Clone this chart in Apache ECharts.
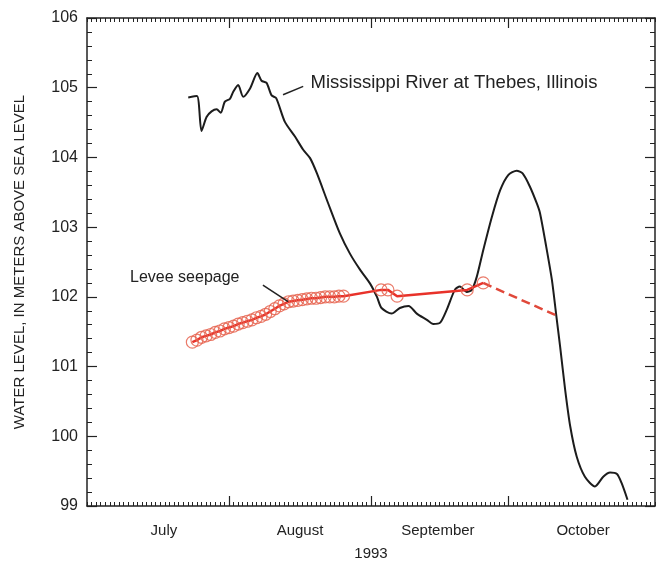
<!DOCTYPE html>
<html>
<head>
<meta charset="utf-8">
<script src="https://cdn.jsdelivr.net/npm/echarts@6/dist/echarts.min.js"></script>
<style>
  html, body { margin: 0; padding: 0; background: #ffffff; }
  #chart { width: 661px; height: 563px; }
</style>
</head>
<body>
<div id="chart"></div>
<script>
// Days are counted from 1 July 1993 (day 0).
const monthNames = ['July', 'August', 'September', 'October'];
const monthStarts = [31, 62, 92];          // 1 Aug, 1 Sep, 1 Oct
const monthLabelDays = [16.8, 46.5, 76.6, 108.3];

// Mississippi River stage at Thebes, Illinois (m above sea level)
const riverDays = [22.1, 24.0, 25.0, 26.1, 27.2, 28.3, 29.2, 30.1, 31.2, 31.9,
  33.0, 34.1, 35.6, 37.2, 38.1, 39.2, 40.3, 41.3, 43.2, 45.4,
  47.2, 48.7, 50.2, 52.6, 55.2, 57.4, 59.6, 61.8, 63.3, 64.3,
  66.5, 68.3, 70.2, 72.0, 74.2, 75.6, 77.1, 78.5, 80.3, 81.4,
  82.9, 84.0, 85.1, 86.5, 88.4, 90.2, 92.0, 93.8, 95.1, 96.7,
  98.2, 98.9, 100.2, 101.5, 102.4, 103.3, 104.4, 105.5, 106.9, 108.7,
  110.9, 112.7, 114.2, 115.7, 116.7, 118.0];
const riverLevel = [104.86, 104.88, 104.38, 104.58, 104.66, 104.69, 104.64, 104.80, 104.84, 104.94,
  105.04, 104.87, 104.99, 105.21, 105.10, 105.07, 104.89, 104.85, 104.51, 104.30,
  104.11, 103.99, 103.77, 103.35, 102.91, 102.62, 102.39, 102.19, 102.00, 101.84,
  101.76, 101.84, 101.87, 101.76, 101.67, 101.61, 101.63, 101.81, 102.10, 102.15,
  102.07, 102.10, 102.29, 102.67, 103.15, 103.53, 103.75, 103.81, 103.77, 103.58,
  103.34, 103.20, 102.74, 102.24, 101.76, 101.28, 100.66, 100.14, 99.71, 99.42,
  99.28, 99.42, 99.48, 99.46, 99.33, 99.09];

// Levee seepage water level (measured)
const seepDays = [23, 24, 25, 26, 27, 28, 29, 30, 31, 32,
  33, 34, 35, 36, 37, 38, 39, 40, 41, 42,
  43, 44, 45, 46, 47, 48, 49, 50, 51, 52,
  53, 54, 55, 56, 64.2, 65.7, 67.7, 83.0, 86.5];
const seepLevel = [101.35, 101.38, 101.42, 101.44, 101.46, 101.49, 101.51, 101.54, 101.56, 101.58,
  101.61, 101.63, 101.65, 101.67, 101.70, 101.72, 101.75, 101.79, 101.83, 101.87,
  101.90, 101.93, 101.94, 101.95, 101.96, 101.97, 101.98, 101.98, 101.99, 102.00,
  102.00, 102.00, 102.01, 102.01, 102.10, 102.10, 102.01, 102.10, 102.20];

// Estimated seepage level after the last measurement
const seepEstDays = [86.5, 102.2];
const seepEstLevel = [102.20, 101.74];

const pairs = (xs, ys) => xs.map((x, i) => [x, ys[i]]);

const FONT = '"Liberation Sans", Arial, Helvetica, sans-serif';
const INK = '#222222';
const X_MIN = 0, X_MAX = 124;
const Y_MIN = 99, Y_MAX = 106;

// Daily ticks along the bottom and top edges
const dayAxis = (pos) => ({
  type: 'value', position: pos, min: X_MIN, max: X_MAX, interval: 1,
  axisLine: { show: true, onZero: false, lineStyle: { color: INK, width: 1.5 } },
  axisTick: { show: true, inside: true, length: 4, lineStyle: { color: INK, width: 1 } },
  axisLabel: { show: false },
  splitLine: { show: false }
});
// Month boundaries and month names
const monthAxis = (pos, withLabels) => ({
  type: 'value', position: pos, min: X_MIN, max: X_MAX,
  axisLine: { show: false, onZero: false },
  axisTick: { show: true, inside: true, length: 10, customValues: monthStarts,
              lineStyle: { color: INK, width: 1.2 } },
  axisLabel: withLabels ? {
    show: true, customValues: monthLabelDays, margin: 17,
    fontFamily: FONT, fontSize: 15, color: INK,
    formatter: (v) => monthNames[monthLabelDays.indexOf(v)] || ''
  } : { show: false },
  splitLine: { show: false },
  name: withLabels ? '1993' : '',
  nameLocation: 'middle', nameGap: 40,
  nameTextStyle: { fontFamily: FONT, fontSize: 15, color: INK }
});
// Whole-metre ticks (labelled on the left)
const levelAxis = (pos, withLabels) => ({
  type: 'value', position: pos, min: Y_MIN, max: Y_MAX, interval: 1,
  axisLine: { show: true, onZero: false, lineStyle: { color: INK, width: 1.5 } },
  axisTick: { show: true, inside: true, length: 10, lineStyle: { color: INK, width: 1.2 } },
  axisLabel: withLabels ? { show: true, margin: 9, fontFamily: FONT, fontSize: 16, color: INK }
                        : { show: false },
  splitLine: { show: false },
  name: withLabels ? 'WATER LEVEL, IN METERS ABOVE SEA LEVEL' : '',
  nameLocation: 'middle', nameGap: 60, nameRotate: 90,
  nameTextStyle: { fontFamily: FONT, fontSize: 15, color: INK }
});
// 0.2 m ticks
const fineLevelAxis = (pos) => ({
  type: 'value', position: pos, min: Y_MIN, max: Y_MAX, interval: 0.2,
  axisLine: { show: false, onZero: false },
  axisTick: { show: true, inside: true, length: 5, lineStyle: { color: INK, width: 1 } },
  axisLabel: { show: false },
  splitLine: { show: false }
});

const chart = echarts.init(document.getElementById('chart'), null, { renderer: 'canvas' });
chart.setOption({
  backgroundColor: '#ffffff',
  animation: false,
  grid: { left: 87, right: 6, top: 18, bottom: 57, outerBoundsMode: 'none', containLabel: false },
  xAxis: [dayAxis('bottom'), monthAxis('bottom', true), dayAxis('top'), monthAxis('top', false)],
  yAxis: [levelAxis('left', true), fineLevelAxis('left'), levelAxis('right', false), fineLevelAxis('right')],
  series: [
    {
      name: 'Mississippi River at Thebes, Illinois',
      type: 'line', xAxisIndex: 0, yAxisIndex: 0,
      data: pairs(riverDays, riverLevel),
      showSymbol: false, smooth: 0.25,
      lineStyle: { color: '#1c1c1c', width: 2 },
      z: 3,
      markLine: {
        silent: true, symbol: 'none', animation: false,
        lineStyle: { color: INK, width: 1.5, type: 'solid' },
        label: { show: false },
        data: [[{ coord: [42.8, 104.90] }, { coord: [47.2, 105.02] }]]
      },
      markPoint: {
        silent: true, symbol: 'circle', symbolSize: 1,
        itemStyle: { color: 'rgba(0,0,0,0)' },
        label: { show: true, position: 'right', distance: 0, fontFamily: FONT, fontSize: 18.5, color: INK,
                 formatter: 'Mississippi River at Thebes, Illinois' },
        data: [{ coord: [48.7, 105.07] }]
      }
    },
    {
      name: 'Levee seepage',
      type: 'line', xAxisIndex: 0, yAxisIndex: 0,
      data: pairs(seepDays, seepLevel),
      symbol: 'circle', symbolSize: 12, showSymbol: true,
      itemStyle: { color: 'rgba(255,255,255,0)', borderColor: 'rgba(230,100,80,0.85)', borderWidth: 1.2 },
      lineStyle: { color: '#e8322a', width: 2.5 },
      z: 4,
      markLine: {
        silent: true, symbol: 'none', animation: false,
        lineStyle: { color: INK, width: 1.5, type: 'solid' },
        label: { show: false },
        data: [[{ coord: [38.4, 102.17] }, { coord: [43.9, 101.93] }]]
      },
      markPoint: {
        silent: true, symbol: 'circle', symbolSize: 1,
        itemStyle: { color: 'rgba(0,0,0,0)' },
        label: { show: true, position: 'left', distance: 0, fontFamily: FONT, fontSize: 16, color: INK,
                 formatter: 'Levee seepage' },
        data: [{ coord: [33.4, 102.28] }]
      }
    },
    {
      name: 'Levee seepage (estimated)',
      type: 'line', xAxisIndex: 0, yAxisIndex: 0,
      data: pairs(seepEstDays, seepEstLevel),
      showSymbol: false,
      lineStyle: { color: '#e0483a', width: 2.5, type: [9, 5] },
      z: 4
    }
  ]
});
</script>
</body>
</html>
